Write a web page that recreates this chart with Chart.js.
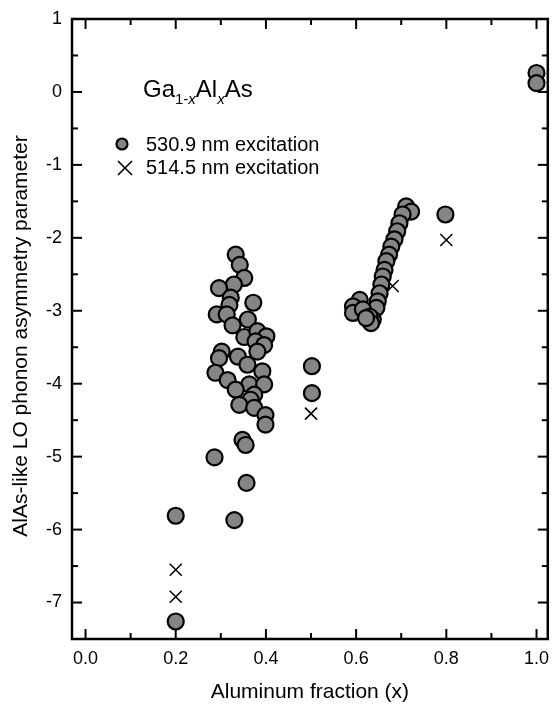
<!DOCTYPE html>
<html>
<head>
<meta charset="utf-8">
<script src="https://cdn.jsdelivr.net/npm/chart.js@4/dist/chart.umd.min.js"></script>
<style>
  body { margin: 0; background: #fff; }
  canvas { display: block; }
</style>
</head>
<body>
<canvas id="chart-canvas" width="558" height="708"></canvas>
<script>
const FONT = '"Liberation Sans", Arial, sans-serif';

// 530.9 nm excitation
const greenX = [
  0.2, 0.2,
  0.286, 0.348, 0.355, 0.357, 0.33,
  0.333, 0.342, 0.352, 0.329, 0.296, 0.322, 0.372, 0.319, 0.291, 0.313,
  0.36, 0.326, 0.352, 0.381, 0.401, 0.377, 0.396, 0.302, 0.338, 0.381,
  0.296, 0.359, 0.392, 0.288, 0.315, 0.363, 0.396, 0.333, 0.374, 0.366,
  0.341, 0.374, 0.399, 0.399,
  0.502, 0.502,
  0.711, 0.722, 0.703, 0.696, 0.691, 0.685, 0.678, 0.673, 0.667, 0.663,
  0.659, 0.656, 0.652, 0.648, 0.645, 0.637, 0.608, 0.593, 0.593, 0.615,
  0.63, 0.633, 0.622,
  0.798,
  1.0, 1.0
];
const greenY = [
  -5.81, -7.26,
  -5.01, -4.77, -4.84, -5.36, -5.87,
  -2.23, -2.37, -2.55, -2.64, -2.69, -2.82, -2.89, -2.92, -3.05, -3.05,
  -3.12, -3.2, -3.36, -3.28, -3.35, -3.42, -3.47, -3.56, -3.63, -3.56,
  -3.65, -3.74, -3.83, -3.85, -3.95, -4.01, -4.01, -4.08, -4.15, -4.22,
  -4.29, -4.33, -4.43, -4.56,
  -3.76, -4.13,
  -1.57, -1.64, -1.68, -1.8, -1.91, -2.02, -2.12, -2.23, -2.32, -2.44,
  -2.53, -2.64, -2.76, -2.87, -2.96, -3.12, -2.85, -2.94, -3.03, -2.98,
  -3.08, -3.17, -3.1,
  -1.68,
  0.26, 0.12
];

// 514.5 nm excitation
const blueX = [0.2, 0.2, 0.5, 0.681, 0.8];
const blueY = [-6.55, -6.92, -4.41, -2.66, -2.03];

const seriesNames = ["530.9 nm excitation", "514.5 nm excitation"];
const xTitle = "Aluminum fraction (x)";
const yTitle = "AlAs-like LO phonon asymmetry parameter";

const circleFill = "#858585";

function toPoints(xs, ys) {
  return xs.map((x, i) => ({ x: x, y: ys[i] }));
}

// frame, inward ticks on all four sides, axis titles, formula and legend
const decorPlugin = {
  id: "decor",
  afterDraw(chart) {
    const ctx = chart.ctx;
    const { left, right, top, bottom } = chart.chartArea;
    const sx = chart.scales.x;
    const sy = chart.scales.y;
    ctx.save();
    ctx.strokeStyle = "#000";

    ctx.lineWidth = 2;
    const tick = (x1, y1, x2, y2) => {
      ctx.beginPath();
      ctx.moveTo(x1, y1);
      ctx.lineTo(x2, y2);
      ctx.stroke();
    };
    for (let i = 0; i <= 10; i++) {
      const px = sx.getPixelForValue(i / 10);
      const len = i % 2 === 0 ? 10 : 6;
      tick(px, bottom, px, bottom - len);
      tick(px, top, px, top + len);
    }
    for (let i = -15; i <= 2; i++) {
      const py = sy.getPixelForValue(i / 2);
      const len = i % 2 === 0 ? 10 : 6;
      tick(left, py, left + len, py);
      tick(right, py, right - len, py);
    }
    ctx.lineWidth = 2.5;
    ctx.strokeRect(left, top, right - left, bottom - top);

    ctx.fillStyle = "#000";
    // axis titles
    ctx.font = "21px " + FONT;
    ctx.textAlign = "center";
    ctx.textBaseline = "middle";
    ctx.fillText(xTitle, (left + right) / 2, 692);
    ctx.save();
    ctx.translate(21, 336);
    ctx.rotate(-Math.PI / 2);
    ctx.fillText(yTitle, 0, 0);
    ctx.restore();

    // Ga(1-x)Al(x)As
    ctx.textAlign = "left";
    ctx.textBaseline = "alphabetic";
    let cx = 143;
    const base = 97;
    const sub = base + 7;
    const parts = [
      ["Ga", "24px " + FONT, base],
      ["1-", "15px " + FONT, sub],
      ["x", "italic 15px " + FONT, sub],
      ["Al", "24px " + FONT, base],
      ["x", "italic 15px " + FONT, sub],
      ["As", "24px " + FONT, base]
    ];
    parts.forEach(([txt, font, y]) => {
      ctx.font = font;
      ctx.fillText(txt, cx, y);
      cx += ctx.measureText(txt).width;
    });

    // legend
    ctx.font = "20px " + FONT;
    ctx.textBaseline = "middle";
    ctx.fillText(seriesNames[0], 146, 145);
    ctx.fillText(seriesNames[1], 146, 168);
    ctx.beginPath();
    ctx.arc(122, 144, 5.5, 0, Math.PI * 2);
    ctx.fillStyle = circleFill;
    ctx.fill();
    ctx.lineWidth = 2.2;
    ctx.strokeStyle = "#000";
    ctx.stroke();
    ctx.lineWidth = 1.6;
    tick(118, 161, 132, 175);
    tick(118, 175, 132, 161);
    ctx.restore();
  }
};

const chartCanvas = document.getElementById("chart-canvas");

new Chart(chartCanvas, {
  type: "scatter",
  data: {
    datasets: [
      {
        label: seriesNames[0],
        data: toPoints(greenX, greenY),
        pointStyle: "circle",
        pointRadius: 8,
        pointBorderWidth: 2.2,
        pointBackgroundColor: circleFill,
        pointBorderColor: "#000",
        order: 0
      },
      {
        label: seriesNames[1],
        data: toPoints(blueX, blueY),
        pointStyle: "crossRot",
        pointRadius: 8.5,
        pointBorderWidth: 1.5,
        pointBorderColor: "#000",
        order: 1
      }
    ]
  },
  options: {
    responsive: false,
    animation: false,
    layout: { padding: { top: 19, right: 5, left: 0, bottom: 0 } },
    plugins: {
      legend: { display: false },
      tooltip: { enabled: false }
    },
    scales: {
      x: {
        type: "linear",
        min: -0.03,
        max: 1.025,
        grid: { display: false, drawTicks: false },
        border: { display: false },
        ticks: {
          stepSize: 0.2,
          includeBounds: false,
          padding: 9,
          color: "#000",
          font: { family: FONT, size: 18 },
          callback: (v) => v.toFixed(1)
        },
        afterFit: (scale) => {
          scale.height = 69;
          scale.paddingLeft = 0;
          scale.paddingRight = 0;
        }
      },
      y: {
        type: "linear",
        min: -7.5,
        max: 1,
        grid: { display: false, drawTicks: false },
        border: { display: false },
        ticks: {
          stepSize: 1,
          includeBounds: false,
          padding: 10,
          color: "#000",
          font: { family: FONT, size: 18 },
          callback: (v) => String(v)
        },
        afterFit: (scale) => {
          scale.width = 72;
          scale.paddingTop = 0;
          scale.paddingBottom = 0;
        }
      }
    }
  },
  plugins: [decorPlugin]
});
</script>
</body>
</html>
